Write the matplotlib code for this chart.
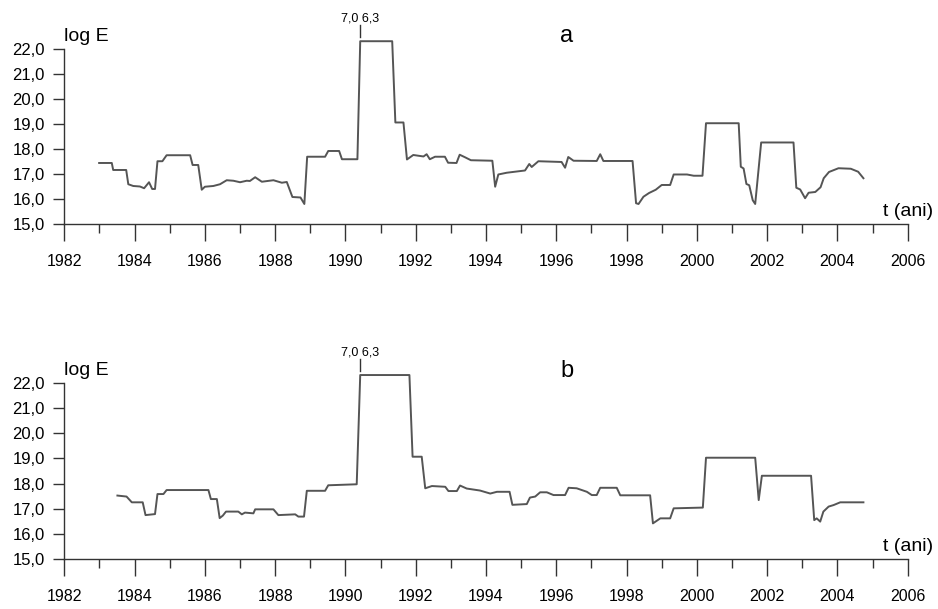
import matplotlib
matplotlib.use("Agg")
import matplotlib.pyplot as plt
from matplotlib.ticker import FixedLocator

plt.rcParams["font.family"] = ["Liberation Sans", "DejaVu Sans"]

# panel a: time (years) and log E
years_a = [1982.99, 1983.35, 1983.39, 1983.76, 1983.82, 1983.96, 1984.15, 1984.27,
           1984.41, 1984.50, 1984.58, 1984.65, 1984.79, 1984.91, 1985.58, 1985.65,
           1985.81, 1985.91, 1986.00, 1986.24, 1986.43, 1986.62, 1986.81, 1987.00,
           1987.19, 1987.28, 1987.43, 1987.62, 1987.95, 1988.19, 1988.33, 1988.49,
           1988.72, 1988.83, 1988.91, 1989.42, 1989.51, 1989.82, 1989.90, 1990.34,
           1990.42, 1991.33, 1991.42, 1991.65, 1991.75, 1991.93, 1992.22, 1992.31,
           1992.40, 1992.55, 1992.83, 1992.92, 1993.16, 1993.25, 1993.40, 1993.57,
           1994.18, 1994.26, 1994.35, 1994.59, 1995.11, 1995.23, 1995.30, 1995.49,
           1996.15, 1996.25, 1996.34, 1996.49, 1997.15, 1997.25, 1997.34, 1998.17,
           1998.27, 1998.34, 1998.48, 1998.64, 1998.83, 1999.00, 1999.24, 1999.34,
           1999.72, 1999.91, 2000.16, 2000.26, 2001.19, 2001.25, 2001.33, 2001.41,
           2001.49, 2001.59, 2001.66, 2001.83, 2002.75, 2002.83, 2002.94, 2003.08,
           2003.18, 2003.37, 2003.52, 2003.61, 2003.76, 2004.03, 2004.38, 2004.59,
           2004.74]
loge_a = [17.44, 17.44, 17.16, 17.16, 16.59, 16.52, 16.50, 16.43,
          16.67, 16.40, 16.40, 17.51, 17.51, 17.75, 17.75, 17.36,
          17.36, 16.37, 16.49, 16.52, 16.59, 16.75, 16.73, 16.67,
          16.73, 16.72, 16.87, 16.69, 16.75, 16.65, 16.68, 16.08,
          16.06, 15.80, 17.69, 17.69, 17.92, 17.92, 17.59, 17.59,
          22.31, 22.31, 19.06, 19.06, 17.58, 17.76, 17.70, 17.79,
          17.59, 17.69, 17.69, 17.45, 17.44, 17.77, 17.67, 17.55,
          17.53, 16.49, 16.98, 17.05, 17.14, 17.40, 17.28, 17.51,
          17.48, 17.25, 17.68, 17.53, 17.52, 17.79, 17.52, 17.52,
          15.83, 15.80, 16.09, 16.24, 16.37, 16.56, 16.56, 16.98,
          16.98, 16.93, 16.93, 19.03, 19.03, 17.29, 17.22, 16.60,
          16.55, 15.95, 15.80, 18.26, 18.26, 16.45, 16.38, 16.03,
          16.25, 16.28, 16.47, 16.83, 17.08, 17.23, 17.21, 17.09,
          16.83]

# panel b
years_b = [1983.51, 1983.77, 1983.92, 1984.23, 1984.31, 1984.58, 1984.65, 1984.82,
           1984.91, 1986.10, 1986.17, 1986.34, 1986.42, 1986.51, 1986.60, 1986.95,
           1987.05, 1987.14, 1987.38, 1987.43, 1987.95, 1988.09, 1988.57, 1988.66,
           1988.82, 1988.90, 1989.42, 1989.51, 1990.32, 1990.42, 1991.82, 1991.91,
           1992.17, 1992.27, 1992.46, 1992.84, 1992.93, 1993.17, 1993.26, 1993.45,
           1993.83, 1994.12, 1994.31, 1994.67, 1994.75, 1995.16, 1995.25, 1995.40,
           1995.54, 1995.73, 1995.92, 1996.25, 1996.35, 1996.58, 1996.87, 1997.01,
           1997.15, 1997.25, 1997.72, 1997.82, 1998.67, 1998.75, 1998.96, 1999.24,
           1999.34, 2000.17, 2000.26, 2001.66, 2001.76, 2001.85, 2003.25, 2003.34,
           2003.41, 2003.51, 2003.60, 2003.75, 2003.89, 2004.08, 2004.74]
loge_b = [17.52, 17.48, 17.25, 17.25, 16.74, 16.78, 17.58, 17.58,
          17.74, 17.74, 17.38, 17.38, 16.62, 16.72, 16.88, 16.88,
          16.77, 16.84, 16.81, 16.97, 16.97, 16.74, 16.77, 16.68,
          16.68, 17.71, 17.71, 17.93, 17.97, 22.33, 22.33, 19.07,
          19.07, 17.81, 17.90, 17.87, 17.70, 17.70, 17.92, 17.80,
          17.72, 17.60, 17.67, 17.67, 17.15, 17.18, 17.44, 17.48,
          17.65, 17.65, 17.54, 17.54, 17.83, 17.81, 17.67, 17.54,
          17.54, 17.83, 17.83, 17.53, 17.53, 16.41, 16.61, 16.61,
          17.01, 17.04, 19.03, 19.03, 17.34, 18.31, 18.31, 16.54,
          16.61, 16.48, 16.88, 17.08, 17.14, 17.25, 17.25]

peak_year = 1990.42
peak_label = "7,0 6,3"
major_years = list(range(1982, 2007, 2))
minor_years = list(range(1983, 2006, 2))
y_ticks = [15, 16, 17, 18, 19, 20, 21, 22]
y_labels = ["15,0", "16,0", "17,0", "18,0", "19,0", "20,0", "21,0", "22,0"]

LINE = "#555555"
AXC = "#333333"


def panel(ax, years, loge, letter):
    ax.plot(years, loge, color=LINE, lw=1.4, clip_on=False)
    ax.set_xlim(1982, 2006)
    ax.set_ylim(15, 22)
    for s in ("top", "right"):
        ax.spines[s].set_visible(False)
    for s in ("left", "bottom"):
        ax.spines[s].set_color(AXC)
        ax.spines[s].set_linewidth(1.0)
    ax.xaxis.set_major_locator(FixedLocator(major_years))
    ax.xaxis.set_minor_locator(FixedLocator(minor_years))
    ax.set_xticklabels([str(y) for y in major_years])
    ax.set_yticks(y_ticks)
    ax.set_yticklabels(y_labels)
    ax.tick_params(axis="x", which="major", length=12.5, width=1.0,
                   color=AXC, pad=9, labelsize=11.5)
    ax.tick_params(axis="x", which="minor", length=6.5, width=1.0, color=AXC)
    ax.tick_params(axis="y", which="major", length=8, width=1.0,
                   color=AXC, pad=6, labelsize=12)

    ax.text(1982.0, 22.5, "log E", fontsize=14, ha="left", va="center")
    ax.text(1996.3, 22.5, letter, fontsize=17, ha="center", va="center")
    ax.text(2006.0, 15.5, "t (ani)", fontsize=14, ha="center", va="center")

    # the two largest events are marked above the clipped maximum
    ax.text(peak_year, 23.22, peak_label, fontsize=9, ha="center", va="center")
    ax.plot([peak_year, peak_year], [22.48, 22.96], color=AXC, lw=1.0,
            clip_on=False)


fig = plt.figure(figsize=(9.38, 6.09), dpi=100)
ax_a = fig.add_axes([0.0686, 0.6322, 0.8991, 0.2874])
ax_b = fig.add_axes([0.0686, 0.0826, 0.8991, 0.2880])
panel(ax_a, years_a, loge_a, "a")
panel(ax_b, years_b, loge_b, "b")

fig.savefig("out.png", dpi=100, facecolor="white")
